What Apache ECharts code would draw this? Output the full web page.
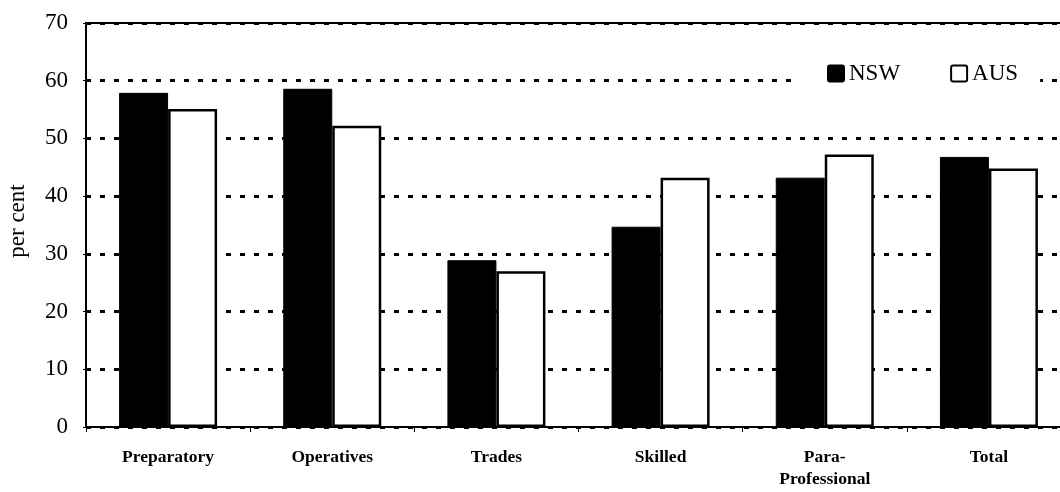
<!DOCTYPE html>
<html>
<head>
<meta charset="utf-8">
<script src="https://cdn.jsdelivr.net/npm/echarts@6/dist/echarts.min.js"></script>
<style>
  html, body { margin: 0; padding: 0; background: #fff; }
  #chart { width: 1060px; height: 492px; }
</style>
</head>
<body>
<div id="chart"></div>
<script>
// 数据
var categories = ["Preparatory", "Operatives", "Trades", "Skilled", "Para-\nProfessional", "Total"];
var nswValues = [57.9, 58.6, 28.9, 34.7, 43.2, 46.8];
var ausValues = [55.1, 52.2, 27.0, 43.2, 47.2, 44.8];

var serif = "Liberation Serif";
var myChart = echarts.init(document.getElementById("chart"));

var option = {
  backgroundColor: "#fff",
  animation: false,
  textStyle: { fontFamily: serif, color: "#000" },
  legend: {
    left: 800,
    top: 52,
    padding: [10, 22, 10, 27],
    backgroundColor: "#fff",
    itemWidth: 16,
    itemHeight: 16,
    itemGap: 50,
    textStyle: { fontFamily: serif, fontSize: 23, color: "#000", padding: [0, 0, 0, 0] },
    data: [
      { name: "NSW", icon: "path://M2,0 L14,0 Q16,0 16,2 L16,14 Q16,16 14,16 L2,16 Q0,16 0,14 L0,2 Q0,0 2,0 Z" },
      { name: "AUS", icon: "path://M2,0 L14,0 Q16,0 16,2 L16,14 Q16,16 14,16 L2,16 Q0,16 0,14 L0,2 Q0,0 2,0 Z" }
    ]
  },
  grid: {
    left: 86,
    right: -11,
    top: 23,
    bottom: 65,
    containLabel: false,
    outerBoundsMode: "none",
    show: true,
    borderColor: "#000",
    borderWidth: 2
  },
  xAxis: {
    type: "category",
    data: categories,
    axisLine: { lineStyle: { color: "#000", width: 2 } },
    axisTick: { show: true, length: 5, lineStyle: { color: "#000", width: 1 } },
    axisLabel: {
      margin: 19,
      fontFamily: serif,
      fontWeight: "bold",
      fontSize: 17.5,
      color: "#000",
      lineHeight: 22
    }
  },
  yAxis: {
    type: "value",
    min: 0,
    max: 70,
    interval: 10,
    name: "per cent",
    nameLocation: "middle",
    nameGap: 57,
    nameTextStyle: { fontFamily: serif, fontSize: 23, color: "#000", padding: [0, 0, 0, 8] },
    axisLine: { show: true, lineStyle: { color: "#000", width: 2 } },
    axisTick: { show: true, length: 3, lineStyle: { color: "#000" } },
    axisLabel: { margin: 18, fontFamily: serif, fontSize: 23, color: "#000" },
    splitLine: {
      lineStyle: { color: "#000", width: 3, type: [5, 9] }
    }
  },
  series: [
    {
      name: "NSW",
      type: "bar",
      data: nswValues,
      barWidth: 49,
      barGap: "0%",
      itemStyle: { color: "#000", borderColor: "#000", borderWidth: 1 }
    },
    {
      name: "AUS",
      type: "bar",
      data: ausValues,
      barWidth: 49,
      itemStyle: { color: "#fff", borderColor: "#000", borderWidth: 2.5 }
    }
  ]
};

myChart.setOption(option, true);
</script>
</body>
</html>
